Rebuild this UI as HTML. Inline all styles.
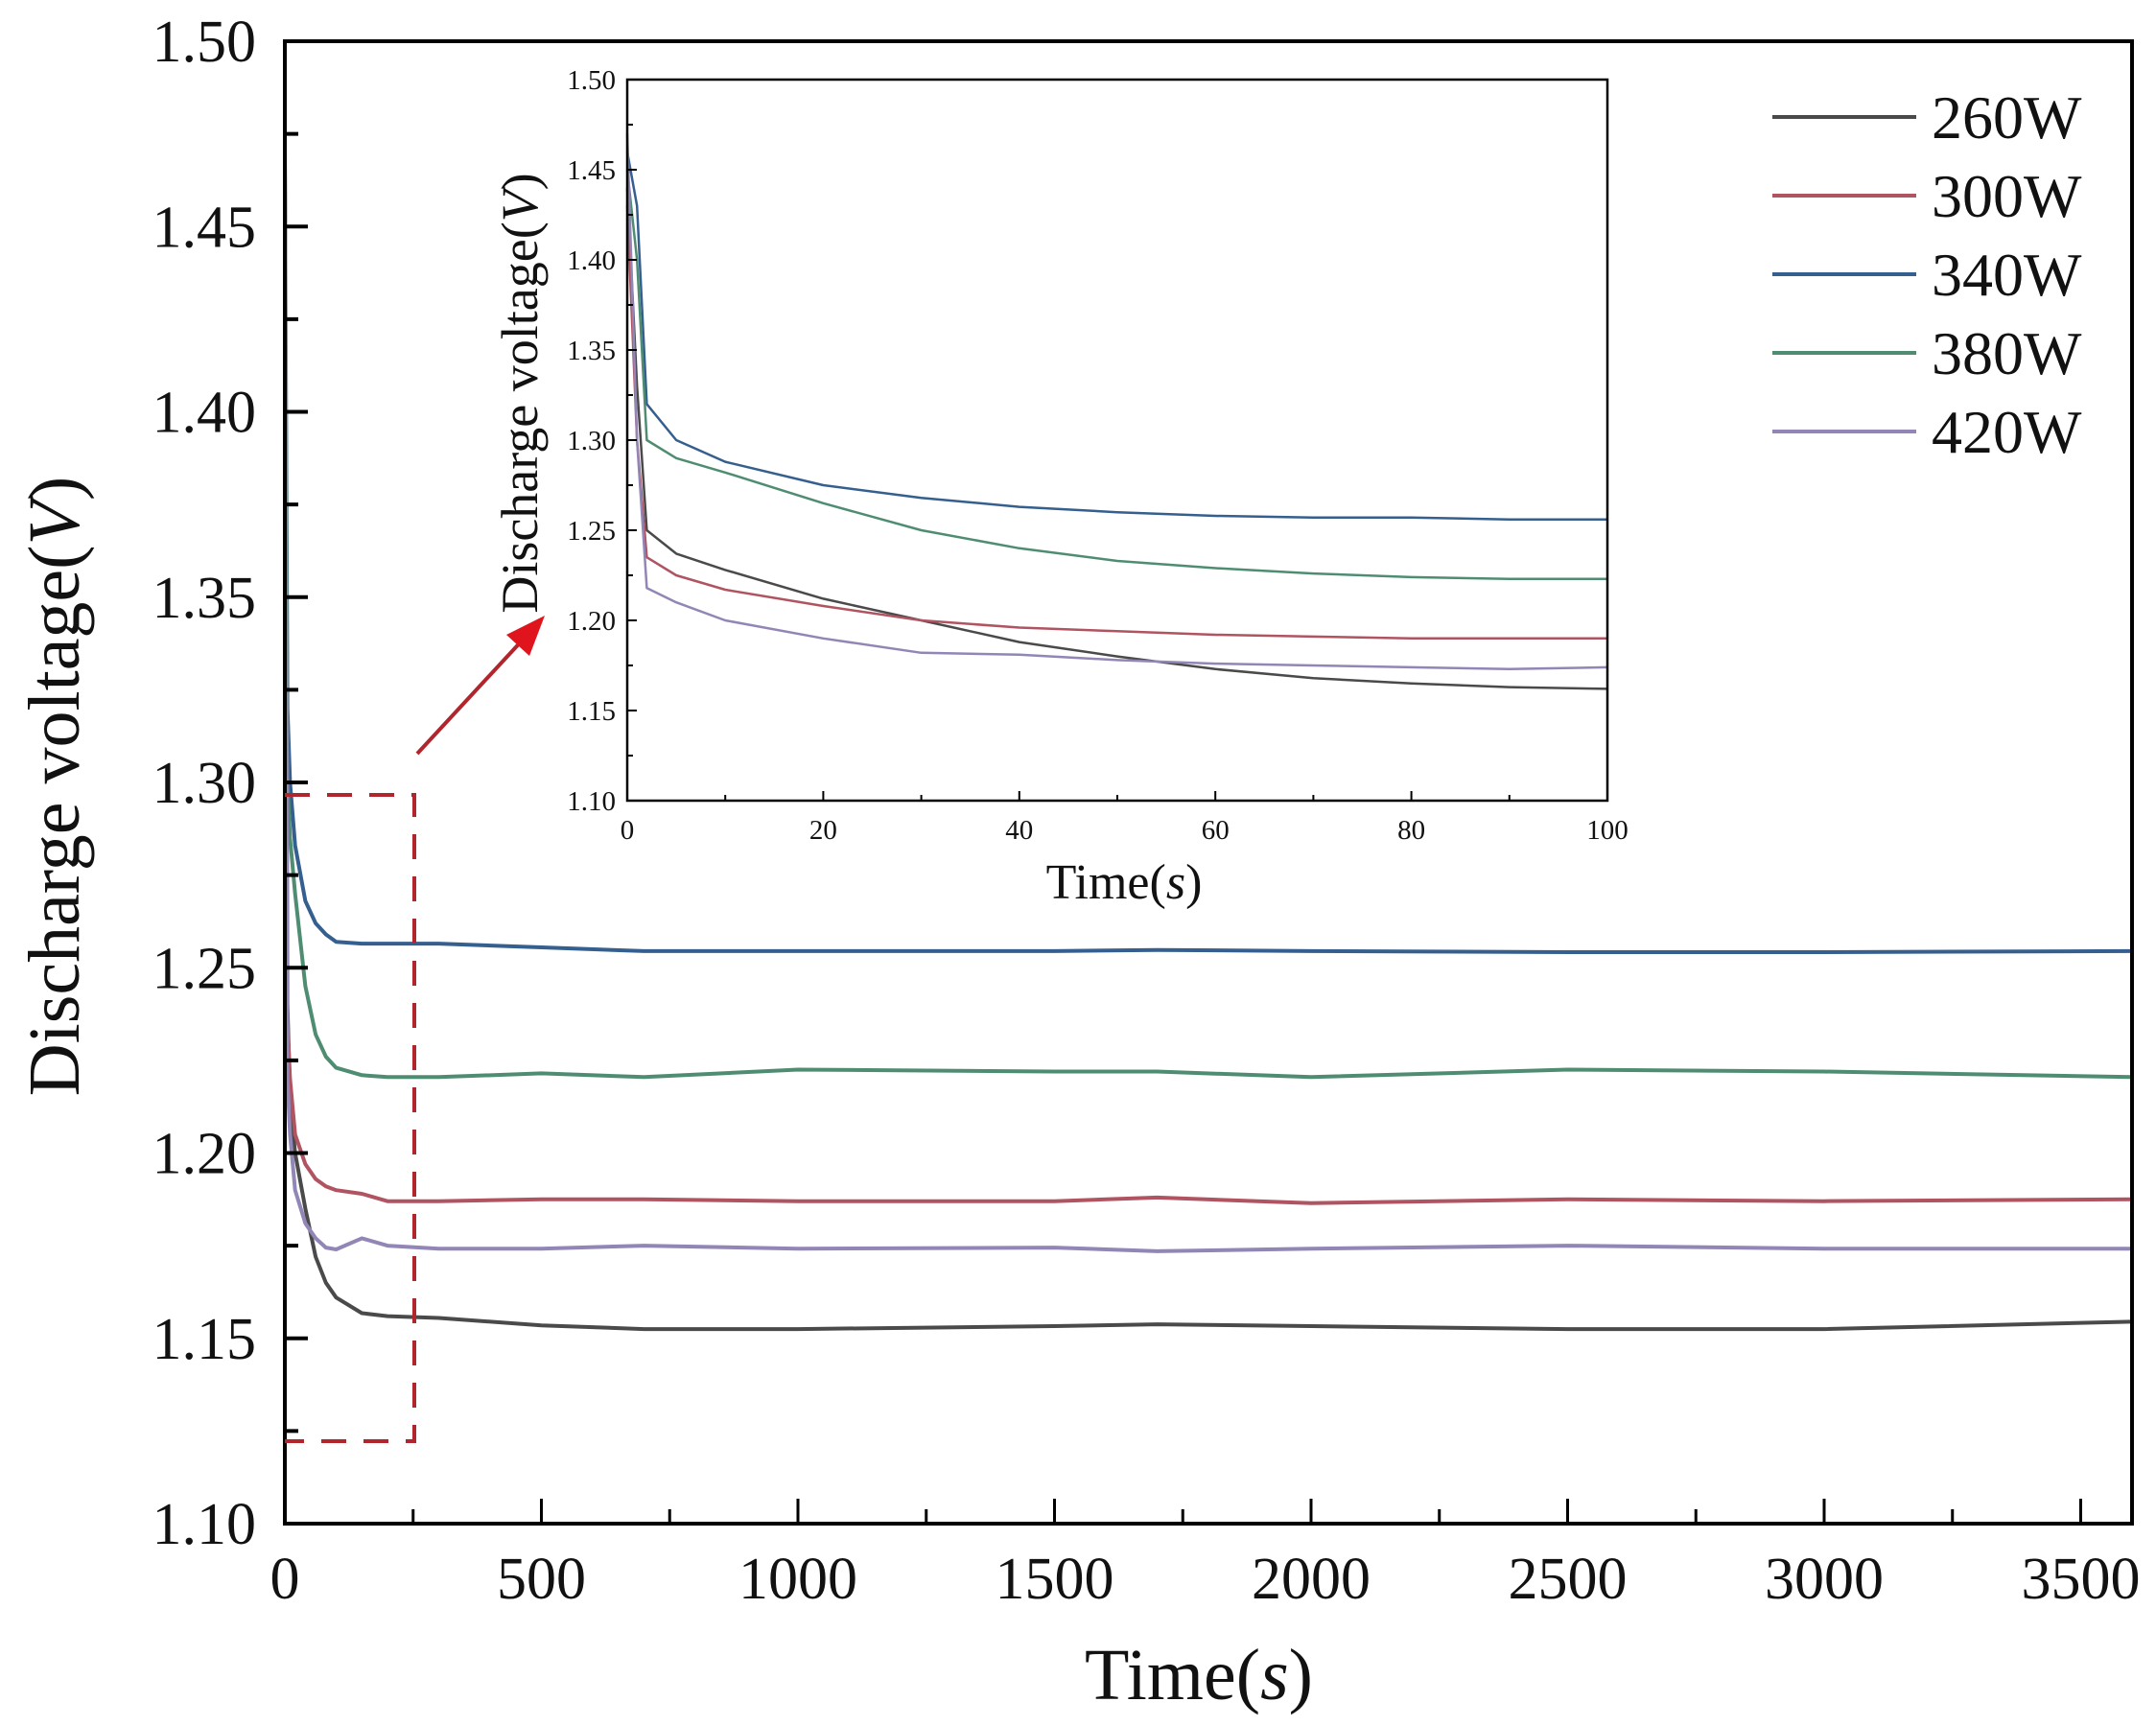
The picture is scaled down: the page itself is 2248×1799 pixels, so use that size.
<!DOCTYPE html>
<html><head><meta charset="utf-8"><style>
html,body{margin:0;padding:0;background:#fff;}
svg{display:block;font-family:"Liberation Serif",serif;}
</style></head><body>
<svg id="chart" width="2248" height="1799" viewBox="0 0 2248 1799" xmlns="http://www.w3.org/2000/svg"></svg>
<script>
// ---- main chart data ----
const seriesNames = ["260W","300W","340W","380W","420W"];
const seriesColors = ["#4a4a4a","#b05462","#355f8e","#4f8d72","#9286b6"];
const mainTimes = [0,5,10,20,40,60,80,100,150,200,300,500,700,1000,1500,1700,2000,2500,3000,3600];
const main260 = [1.47,1.24,1.215,1.20,1.185,1.172,1.165,1.161,1.1568,1.156,1.1555,1.1535,1.1525,1.1525,1.1533,1.1538,1.1533,1.1525,1.1525,1.1545];
const main300 = [1.29,1.235,1.22,1.205,1.197,1.193,1.191,1.19,1.189,1.187,1.187,1.1875,1.1875,1.187,1.187,1.188,1.1865,1.1875,1.187,1.1875];
const main340 = [1.47,1.32,1.30,1.283,1.268,1.262,1.259,1.257,1.2565,1.2565,1.2565,1.2555,1.2545,1.2545,1.2545,1.2548,1.2545,1.2542,1.2542,1.2545];
const main380 = [1.46,1.30,1.285,1.27,1.245,1.232,1.226,1.223,1.221,1.2205,1.2205,1.2215,1.2205,1.2225,1.222,1.222,1.2205,1.2225,1.222,1.2205];
const main420 = [1.47,1.22,1.205,1.19,1.181,1.177,1.1745,1.174,1.177,1.175,1.1742,1.1742,1.175,1.1742,1.1745,1.1735,1.1742,1.175,1.1742,1.1742];
const mainSeries = [main260,main300,main340,main380,main420];
const mainXTicks = [0,500,1000,1500,2000,2500,3000,3500];
const mainYTicks = [1.10,1.15,1.20,1.25,1.30,1.35,1.40,1.45,1.50];
// ---- inset data ----
const insetTimes = [0,1,2,5,10,20,30,40,50,60,70,80,90,100];
const inset260 = [1.44,1.33,1.25,1.237,1.228,1.212,1.200,1.188,1.180,1.173,1.168,1.165,1.163,1.162];
const inset300 = [1.43,1.30,1.235,1.225,1.217,1.208,1.200,1.196,1.194,1.192,1.191,1.190,1.190,1.190];
const inset340 = [1.46,1.43,1.32,1.30,1.288,1.275,1.268,1.263,1.260,1.258,1.257,1.257,1.256,1.256];
const inset380 = [1.45,1.40,1.30,1.29,1.282,1.265,1.250,1.240,1.233,1.229,1.226,1.224,1.223,1.223];
const inset420 = [1.47,1.30,1.218,1.210,1.200,1.190,1.182,1.181,1.178,1.176,1.175,1.174,1.173,1.174];
const insetSeries = [inset260,inset300,inset340,inset380,inset420];
const insetXTicks = [0,20,40,60,80,100];
const insetYTicks = [1.10,1.15,1.20,1.25,1.30,1.35,1.40,1.45,1.50];

const svg = document.getElementById('chart');
const NS = 'http://www.w3.org/2000/svg';
function mk(tag, attrs, parent){
  const e = document.createElementNS(NS, tag);
  for (const k in attrs) e.setAttribute(k, attrs[k]);
  (parent||svg).appendChild(e);
  return e;
}
const M = {l:297, r:2223, t:43, b:1589, x0:0, x1:3600, y0:1.10, y1:1.50};
const mx = v => M.l + (v - M.x0)/(M.x1 - M.x0)*(M.r - M.l);
const my = v => M.b - (v - M.y0)/(M.y1 - M.y0)*(M.b - M.t);
const I = {l:654, r:1676, t:83, b:835, x0:0, x1:100, y0:1.10, y1:1.50};
const ix = v => I.l + (v - I.x0)/(I.x1 - I.x0)*(I.r - I.l);
const iy = v => I.b - (v - I.y0)/(I.y1 - I.y0)*(I.b - I.t);

mainSeries.forEach((arr,i)=>{
  const d = arr.map((v,j)=>(j?'L':'M')+mx(mainTimes[j]).toFixed(1)+' '+my(v).toFixed(1)).join(' ');
  const p = mk('path',{d:d,fill:'none',stroke:seriesColors[i],'stroke-width':4,'stroke-linejoin':'round'});
  
  
});
const mf = mk('rect',{x:M.l,y:M.t,width:M.r-M.l,height:M.b-M.t,fill:'none',stroke:'#000','stroke-width':4});


mainYTicks.forEach((v,i)=>{
  mk('line',{x1:M.l,x2:M.l+24,y1:my(v),y2:my(v),stroke:'#000','stroke-width':4});
  if(i<mainYTicks.length-1) mk('line',{x1:M.l,x2:M.l+14,y1:my(v+0.025),y2:my(v+0.025),stroke:'#000','stroke-width':4});
  const t = mk('text',{x:M.l-30,y:my(v)+21,'text-anchor':'end','font-size':62,fill:'#111'});
  t.textContent = v.toFixed(2);
  
  
});
mainXTicks.forEach(v=>{
  mk('line',{x1:mx(v),x2:mx(v),y1:M.b,y2:M.b-26,stroke:'#000','stroke-width':3});
  mk('line',{x1:mx(v+250),x2:mx(v+250),y1:M.b,y2:M.b-15,stroke:'#000','stroke-width':3});
  const t = mk('text',{x:mx(v),y:M.b+78,'text-anchor':'middle','font-size':62,fill:'#111'});
  t.textContent = v;
  
  
});
const xt = mk('text',{x:1250,y:1772,'text-anchor':'middle','font-size':76,fill:'#111'});
xt.innerHTML = 'Time(<tspan font-style="italic">s</tspan>)';


const yt = mk('text',{x:0,y:0,'text-anchor':'middle','font-size':76,fill:'#111',transform:'translate(82 820) rotate(-90)'});
yt.innerHTML = 'Discharge voltage(<tspan font-style="italic">V</tspan>)';



const zb = mk('path',{d:'M297 829 L432 829 L432 1503 L297 1503',fill:'none',stroke:'#b0262c','stroke-width':4,'stroke-dasharray':'26 18'});


const ar = mk('line',{x1:435,y1:786,x2:548,y2:664,stroke:'#b0262c','stroke-width':4});


mk('polygon',{points:'568,642 528,662 552,684',fill:'#e0141c'});

const ib = mk('rect',{x:I.l,y:I.t,width:I.r-I.l,height:I.b-I.t,fill:'#fff',stroke:'none'});


insetSeries.forEach((arr,i)=>{
  const d = arr.map((v,j)=>(j?'L':'M')+ix(insetTimes[j]).toFixed(1)+' '+iy(v).toFixed(1)).join(' ');
  const p = mk('path',{d:d,fill:'none',stroke:seriesColors[i],'stroke-width':2.5,'stroke-linejoin':'round'});
  
  
});
const inf = mk('rect',{x:I.l,y:I.t,width:I.r-I.l,height:I.b-I.t,fill:'none',stroke:'#000','stroke-width':2.5});


insetYTicks.forEach((v,i)=>{
  mk('line',{x1:I.l,x2:I.l+10,y1:iy(v),y2:iy(v),stroke:'#000','stroke-width':2});
  if(i<insetYTicks.length-1) mk('line',{x1:I.l,x2:I.l+6,y1:iy(v+0.025),y2:iy(v+0.025),stroke:'#000','stroke-width':2});
  const t = mk('text',{x:I.l-12,y:iy(v)+10,'text-anchor':'end','font-size':29,fill:'#111'});
  t.textContent = v.toFixed(2);
  
  
});
insetXTicks.forEach((v,i)=>{
  mk('line',{x1:ix(v),x2:ix(v),y1:I.b,y2:I.b-10,stroke:'#000','stroke-width':2});
  if(i<insetXTicks.length-1) mk('line',{x1:ix(v+10),x2:ix(v+10),y1:I.b,y2:I.b-6,stroke:'#000','stroke-width':2});
  const t = mk('text',{x:ix(v),y:I.b+40,'text-anchor':'middle','font-size':29,fill:'#111'});
  t.textContent = v;
  
  
});
const ixt = mk('text',{x:1172,y:937,'text-anchor':'middle','font-size':52,fill:'#111'});
ixt.innerHTML = 'Time(<tspan font-style="italic">s</tspan>)';


const iyt = mk('text',{x:0,y:0,'text-anchor':'middle','font-size':54,fill:'#111',transform:'translate(560 410) rotate(-90)'});
iyt.innerHTML = 'Discharge voltage(<tspan font-style="italic">V</tspan>)';



seriesNames.forEach((n,i)=>{
  const y = 122 + i*82;
  const g = mk('g',{});
  
  
  mk('line',{x1:1848,x2:1998,y1:y,y2:y,stroke:seriesColors[i],'stroke-width':4},g);
  const t = mk('text',{x:2014,y:y+22,'font-size':64,fill:'#111'},g);
  t.textContent = n;
});
</script>
</body></html>
